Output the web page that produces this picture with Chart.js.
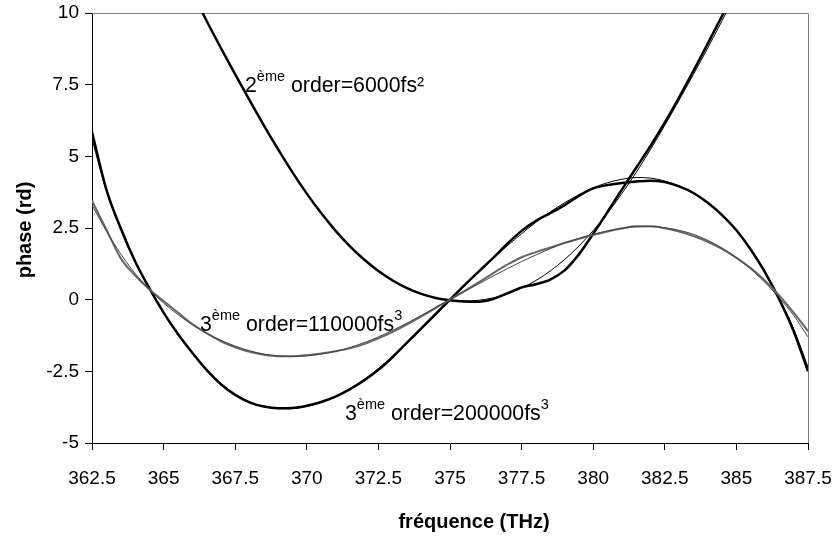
<!DOCTYPE html>
<html>
<head>
<meta charset="utf-8">
<script src="https://cdn.jsdelivr.net/npm/chart.js@4.4.1/dist/chart.umd.min.js"></script>
<style>
  html, body { margin: 0; padding: 0; background: #fff; }
  #wrap { width: 834px; height: 537px; }
</style>
</head>
<body>
<div id="wrap"><canvas id="phaseChart" width="834" height="537"></canvas></div>
<script>
// frequency axis (THz)
const freq = [362.5, 363, 363.5, 364, 364.5, 365, 365.5, 366, 366.5, 367, 367.5, 368, 368.5, 369, 369.5,
  370, 370.5, 371, 371.5, 372, 372.5, 373, 373.5, 374, 374.5, 375, 375.5, 376, 376.5, 377, 377.5,
  378, 378.5, 379, 379.5, 380, 380.5, 381, 381.5, 382, 382.5, 383, 383.5, 384, 384.5, 385, 385.5,
  386, 386.5, 387, 387.5];

// 2nd order 6000 fs^2 : measured phase and parabolic fit
const order2Meas = [null, null, null, null, null, 12.9, 11.8, 10.73, 9.73, 8.78, 7.86, 6.96, 6.08, 5.24, 4.44,
  3.7, 3.02, 2.41, 1.87, 1.4, 1.0, 0.67, 0.4, 0.2, 0.06, -0.02, -0.06, -0.07, 0.02, 0.22, 0.43,
  0.54, 0.7, 1.02, 1.58, 2.3, 3.06, 3.84, 4.6, 5.36, 6.18, 7.06, 7.98, 8.93, 9.9, 10.9, 11.9,
  null, null, null, null];
const order2Fit = [null, null, null, null, null, 12.9, 11.8, 10.73, 9.73, 8.78, 7.86, 6.96, 6.08, 5.24, 4.44,
  3.7, 3.02, 2.41, 1.87, 1.4, 1.0, 0.67, 0.4, 0.2, 0.06, -0.02, -0.05, -0.02, 0.06, 0.2, 0.4,
  0.67, 1.0, 1.4, 1.87, 2.41, 3.02, 3.7, 4.44, 5.24, 6.08, 6.96, 7.86, 8.78, 9.73, 10.73, 11.8,
  null, null, null, null];

// 3rd order 110000 fs^3 : measured phase and cubic fit (grey)
const order3aMeas = [3.45, 2.45, 1.45, 0.85, 0.36, -0.05, -0.45, -0.85, -1.17, -1.45, -1.66, -1.82, -1.92, -1.97, -1.97,
  -1.94, -1.88, -1.8, -1.7, -1.55, -1.35, -1.12, -0.86, -0.58, -0.29, 0.0, 0.3, 0.6, 0.92, 1.22, 1.48,
  1.66, 1.82, 1.98, 2.12, 2.26, 2.38, 2.48, 2.56, 2.56, 2.49, 2.38, 2.22, 2.02, 1.77, 1.46, 1.1,
  0.66, 0.14, -0.45, -1.1];
const order3aFit = [3.3, 2.4, 1.6, 0.92, 0.36, -0.12, -0.52, -0.87, -1.17, -1.42, -1.62, -1.78, -1.9, -1.96, -1.98,
  -1.96, -1.9, -1.8, -1.67, -1.5, -1.3, -1.07, -0.82, -0.55, -0.27, 0.0, 0.28, 0.55, 0.82, 1.08, 1.33,
  1.56, 1.78, 1.97, 2.14, 2.28, 2.4, 2.49, 2.54, 2.55, 2.51, 2.42, 2.28, 2.07, 1.8, 1.47, 1.07,
  0.6, 0.06, -0.55, -1.3];

// 3rd order 200000 fs^3 : measured phase and cubic fit (black)
const order3bMeas = [5.85, 3.85, 2.5, 1.35, 0.4, -0.45, -1.2, -1.85, -2.45, -2.95, -3.32, -3.58, -3.73, -3.79, -3.78,
  -3.7, -3.57, -3.38, -3.13, -2.82, -2.45, -2.0, -1.5, -1.0, -0.5, 0.0, 0.5, 0.98, 1.45, 1.95, 2.4,
  2.75, 3.02, 3.3, 3.62, 3.88, 4.0, 4.07, 4.12, 4.15, 4.1, 3.95, 3.72, 3.38, 2.95, 2.42, 1.75,
  0.95, 0.0, -1.1, -2.5];
const order3bFit = [5.6, 3.8, 2.45, 1.32, 0.38, -0.45, -1.18, -1.83, -2.42, -2.92, -3.3, -3.57, -3.73, -3.8, -3.8,
  -3.72, -3.58, -3.38, -3.1, -2.78, -2.4, -1.97, -1.5, -1.02, -0.52, -0.02, 0.48, 0.96, 1.43, 1.88, 2.3,
  2.7, 3.06, 3.38, 3.66, 3.9, 4.08, 4.2, 4.26, 4.24, 4.14, 3.97, 3.72, 3.38, 2.95, 2.42, 1.77,
  0.98, 0.05, -1.02, -2.35];

const xTicks = [362.5, 365, 367.5, 370, 372.5, 375, 377.5, 380, 382.5, 385, 387.5];
const yTicks = [-5, -2.5, 0, 2.5, 5, 7.5, 10];

const FONT = "'Liberation Sans', Arial, sans-serif";

function pts(arr) {
  return freq.map((x, i) => ({ x: x, y: arr[i] }));
}

function line(arr, color, width) {
  return {
    data: pts(arr),
    borderColor: color,
    borderWidth: width,
    pointRadius: 0,
    cubicInterpolationMode: "monotone",
    fill: false,
    clip: 0
  };
}

// rich text with superscripts
function drawRich(ctx, x, y, parts) {
  parts.forEach(p => {
    const sup = p[1];
    ctx.font = sup ? "14.5px " + FONT : "21.3px " + FONT;
    ctx.fillText(p[0], x, sup ? y - 11 : y);
    x += ctx.measureText(p[0]).width;
  });
}

const decor = {
  id: "decor",
  beforeDatasetsDraw(chart) {
    const { ctx, chartArea: a } = chart;
    ctx.save();
    ctx.strokeStyle = "#808080";
    ctx.lineWidth = 1;
    ctx.beginPath();
    ctx.moveTo(a.left, a.top + 0.5);
    ctx.lineTo(a.right + 0.5, a.top + 0.5);
    ctx.lineTo(a.right + 0.5, a.bottom);
    ctx.stroke();
    ctx.restore();
  },
  afterDraw(chart) {
    const { ctx } = chart;
    ctx.save();
    ctx.fillStyle = "#000";
    ctx.textBaseline = "alphabetic";
    ctx.textAlign = "left";
    drawRich(ctx, 245, 92, [["2", false], ["ème", true], [" order=6000fs²", false]]);
    drawRich(ctx, 200, 331, [["3", false], ["ème", true], [" order=110000fs", false], ["3", true]]);
    drawRich(ctx, 345, 420, [["3", false], ["ème", true], [" order=200000fs", false], ["3", true]]);

    ctx.font = "bold 20px " + FONT;
    ctx.textAlign = "center";
    ctx.textBaseline = "middle";
    ctx.fillText("fréquence (THz)", 474, 522);
    ctx.translate(25, 230);
    ctx.rotate(-Math.PI / 2);
    ctx.fillText("phase (rd)", 0, 0);
    ctx.restore();
  }
};

const ctx = document.getElementById("phaseChart").getContext("2d");
new Chart(ctx, {
  type: "line",
  data: {
    datasets: [
      line(order3aFit, "#444444", 1),
      line(order3aMeas, "#666666", 2),
      line(order2Fit, "#000000", 1),
      line(order2Meas, "#000000", 2.5),
      line(order3bFit, "#000000", 1),
      line(order3bMeas, "#000000", 2.5)
    ]
  },
  options: {
    responsive: false,
    animation: false,
    layout: { padding: { top: 13, right: 26, left: 0, bottom: 0 } },
    plugins: {
      legend: { display: false },
      tooltip: { enabled: false }
    },
    scales: {
      x: {
        type: "linear",
        min: 362.5,
        max: 387.5,
        afterFit: s => { s.height = 94; s.paddingLeft = 0; s.paddingRight = 0; },
        afterBuildTicks: s => { s.ticks = xTicks.map(v => ({ value: v })); },
        grid: { drawOnChartArea: false, tickLength: 7, color: "#000" },
        border: { color: "#000", width: 1 },
        ticks: { color: "#000", padding: 17, maxRotation: 0, autoSkip: false, font: { family: FONT, size: 19 } }
      },
      y: {
        min: -5,
        max: 10,
        afterFit: s => { s.width = 92; s.paddingTop = 0; s.paddingBottom = 0; },
        afterBuildTicks: s => { s.ticks = yTicks.map(v => ({ value: v })); },
        grid: { drawOnChartArea: false, tickLength: 7, color: "#000" },
        border: { color: "#000", width: 1 },
        ticks: { color: "#000", padding: 6, font: { family: FONT, size: 19 } }
      }
    }
  },
  plugins: [decor]
});
</script>
</body>
</html>
